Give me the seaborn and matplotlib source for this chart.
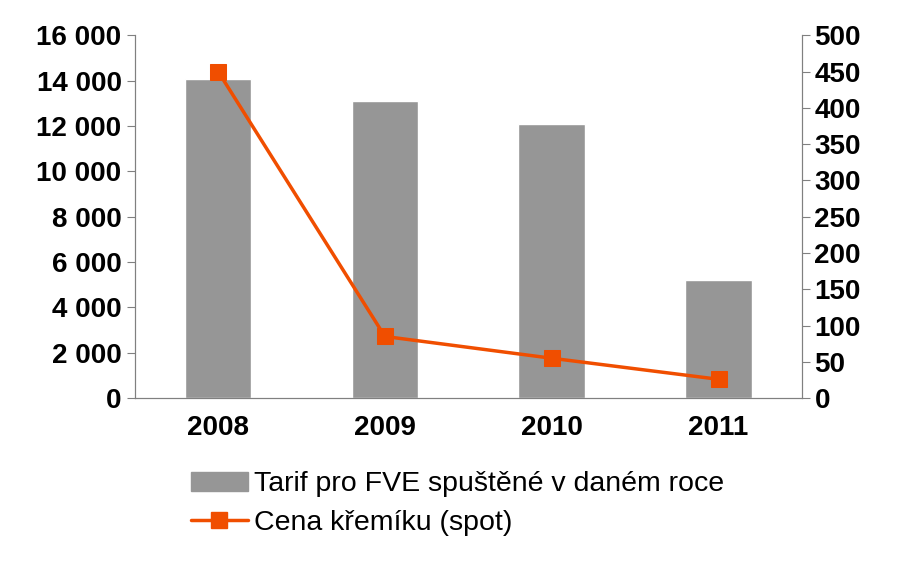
import matplotlib
matplotlib.use("Agg")
import matplotlib.pyplot as plt
import seaborn as sns
import pandas as pd
from matplotlib.ticker import FuncFormatter, FixedLocator
from matplotlib.lines import Line2D
from matplotlib.patches import Patch

years = ["2008", "2009", "2010", "2011"]
tarif = [14050, 13100, 12100, 5200]
cena = [450, 85, 55, 26]
bar_label = "Tarif pro FVE spuštěné v daném roce"
line_label = "Cena křemíku (spot)"

sns.set_style("white")
plt.rcParams['font.family'] = ['Liberation Sans', 'DejaVu Sans']
plt.rcParams['text.color'] = 'black'
plt.rcParams['xtick.labelcolor'] = 'black'
plt.rcParams['ytick.labelcolor'] = 'black'

fig = plt.figure(figsize=(8.98, 5.68), dpi=100)
ax = fig.add_axes([0.150, 0.299, 0.743, 0.639])
df = pd.DataFrame({"year": years, "tarif": tarif, "cena": cena})
sns.barplot(data=df, x="year", y="tarif", color="#969696", width=0.4, ax=ax, saturation=1)
ax.set_xlim(-0.5, 3.5)
ax.set_ylim(0, 16000)
ax.set_yticks(range(0, 16001, 2000))
ax.yaxis.set_major_formatter(FuncFormatter(lambda v, p: f"{int(v):,}".replace(",", " ")))
ax.set_xlabel(""); ax.set_ylabel("")
ax.xaxis.set_minor_locator(FixedLocator([-0.5, 0.5, 1.5, 2.5, 3.5]))
ax.tick_params(axis="x", which="major", length=0, labelsize=20, pad=12, labelcolor="black")
ax.tick_params(axis="x", which="minor", length=6, color="#808080")
ax.tick_params(axis="y", length=6, labelsize=20, color="#808080", left=True, labelcolor="black")
for lab in ax.get_xticklabels() + ax.get_yticklabels():
    lab.set_fontweight("bold")

ax2 = ax.twinx()
x = list(range(len(years)))
sns.lineplot(x=x, y=cena, ax=ax2, color="#F04E00", lw=2.5, marker="s", markersize=11,
             markeredgecolor="#F04E00")
ax2.set_ylim(0, 500)
ax2.set_yticks(range(0, 501, 50))
ax2.tick_params(axis="y", length=6, labelsize=20, color="#808080", right=True, labelcolor="black", pad=3)
for lab in ax2.get_yticklabels():
    lab.set_fontweight("bold")
ax2.set_xlim(-0.5, 3.5)

for a in (ax, ax2):
    for s in a.spines.values():
        s.set_color("#808080")
    a.spines["top"].set_visible(False)

handles = [Patch(color="#969696"),
           Line2D([], [], color="#F04E00", lw=2.5, marker="s", markersize=11)]
fig.legend(handles, [bar_label, line_label], loc="upper left",
           bbox_to_anchor=(0.2, 0.19), frameon=False, fontsize=20.5,
           handlelength=2.0, labelspacing=0.45, handletextpad=0.2,
           borderaxespad=0)
fig.savefig("out.png", dpi=100)
